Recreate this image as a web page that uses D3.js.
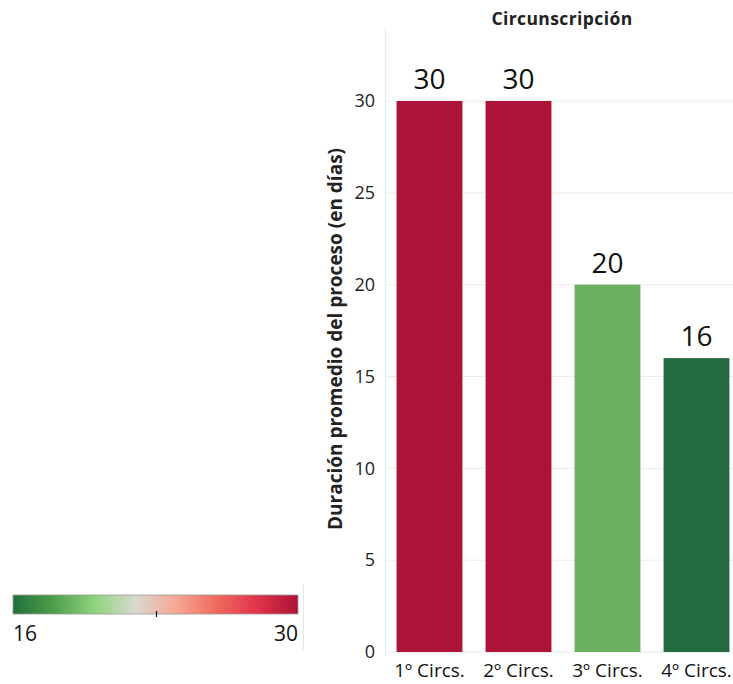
<!DOCTYPE html>
<html><head><meta charset="utf-8">
<script src="https://cdn.jsdelivr.net/npm/d3@7"></script>
<style>body{margin:0;background:#fff}svg{display:block}</style>
</head><body>
<svg id="c" width="733" height="684"></svg>
<script>
const categories = ["1º Circs.", "2º Circs.", "3º Circs.", "4º Circs."];
const values = [30, 30, 20, 16];
const barColors = ["#ad1237", "#ad1237", "#69b05e", "#236a3e"];
const yTicks = [0, 5, 10, 15, 20, 25, 30];
const legendStops = ["#20703a", "#4f9e4c", "#8fd37c", "#d9d9cf", "#f7a896", "#ef6a5e", "#e2334b", "#ad1237"];
const legendMin = 16, legendMax = 30;

const svg = d3.select("#c");
const font = "'Open Sans', 'Noto Sans', sans-serif";
const x0 = 385, x1 = 741, yBase = 652, yTop = 101;
const x = d3.scaleBand().domain(categories).range([x0, x1]).paddingInner(0.26).paddingOuter(0.13);
const y = d3.scaleLinear().domain([0, 30]).range([yBase, yTop]);

// gridlines
svg.append("g").selectAll("line").data(yTicks).join("line")
  .attr("x1", x0).attr("x2", 733).attr("y1", d => y(d)).attr("y2", d => y(d))
  .attr("stroke", "#ececec").attr("stroke-width", 1);
// axis line
svg.append("line").attr("x1", x0 + 0.5).attr("x2", x0 + 0.5).attr("y1", 28).attr("y2", 656)
  .attr("stroke", "#dfeef1").attr("stroke-width", 1);

// y axis
const yAxis = d3.axisLeft(y).tickValues(yTicks).tickSize(0).tickPadding(10);
const ga = svg.append("g").attr("transform", `translate(${x0},0)`).call(yAxis);
ga.select(".domain").remove();
ga.selectAll("text").attr("font-family", font).attr("font-size", 18).attr("fill", "#222");

// bars
svg.append("g").selectAll("rect").data(values).join("rect")
  .attr("x", (d, i) => x(categories[i])).attr("width", x.bandwidth())
  .attr("y", d => y(d)).attr("height", d => y(0) - y(d))
  .attr("fill", (d, i) => barColors[i]);

// value labels
svg.append("g").selectAll("text").data(values).join("text")
  .attr("x", (d, i) => x(categories[i]) + x.bandwidth() / 2)
  .attr("y", d => y(d) - 12)
  .attr("text-anchor", "middle").attr("font-family", font).attr("font-size", 28)
  .attr("fill", "#111").text(d => d);

// x labels
const xAxis = d3.axisBottom(x).tickSize(0).tickPadding(12);
const gx = svg.append("g").attr("transform", `translate(0,${yBase})`).call(xAxis);
gx.select(".domain").remove();
gx.selectAll("text").attr("font-family", font).attr("font-size", 19).attr("fill", "#111");

// title
svg.append("text").attr("x", 562).attr("y", 25).attr("text-anchor", "middle")
  .attr("font-family", font).attr("font-size", 17.5).attr("font-weight", "bold").attr("fill", "#222")
  .attr("letter-spacing", 0.4)
  .text("Circunscripción");
// y title
svg.append("text").attr("transform", "translate(342,339) rotate(-90)").attr("text-anchor", "middle")
  .attr("font-family", font).attr("font-size", 19).attr("font-weight", "bold").attr("fill", "#222")
  .text("Duración promedio del proceso (en días)");

// legend
const defs = svg.append("defs");
const grad = defs.append("linearGradient").attr("id", "lg");
legendStops.forEach((c, i) => grad.append("stop").attr("offset", (i / (legendStops.length - 1) * 100) + "%").attr("stop-color", c));
const lx = d3.scaleLinear().domain([legendMin, legendMax]).range([13, 298]);
svg.append("rect").attr("x", lx(legendMin)).attr("y", 595).attr("width", lx(legendMax) - lx(legendMin)).attr("height", 19)
  .attr("fill", "url(#lg)").attr("stroke", "#9a9a9a").attr("stroke-width", 0.8);
svg.append("line").attr("x1", 156.5).attr("x2", 156.5).attr("y1", 611).attr("y2", 617).attr("stroke", "#111").attr("stroke-width", 1.2);
svg.append("line").attr("x1", 303.5).attr("x2", 303.5).attr("y1", 585).attr("y2", 650).attr("stroke", "#e6e6e6");
svg.append("text").attr("x", lx(legendMin)).attr("y", 641).attr("font-family", font).attr("font-size", 21).attr("fill", "#111").text(legendMin);
svg.append("text").attr("x", lx(legendMax)).attr("y", 641).attr("text-anchor", "end").attr("font-family", font).attr("font-size", 21).attr("fill", "#111").text(legendMax);
</script>
</body></html>
